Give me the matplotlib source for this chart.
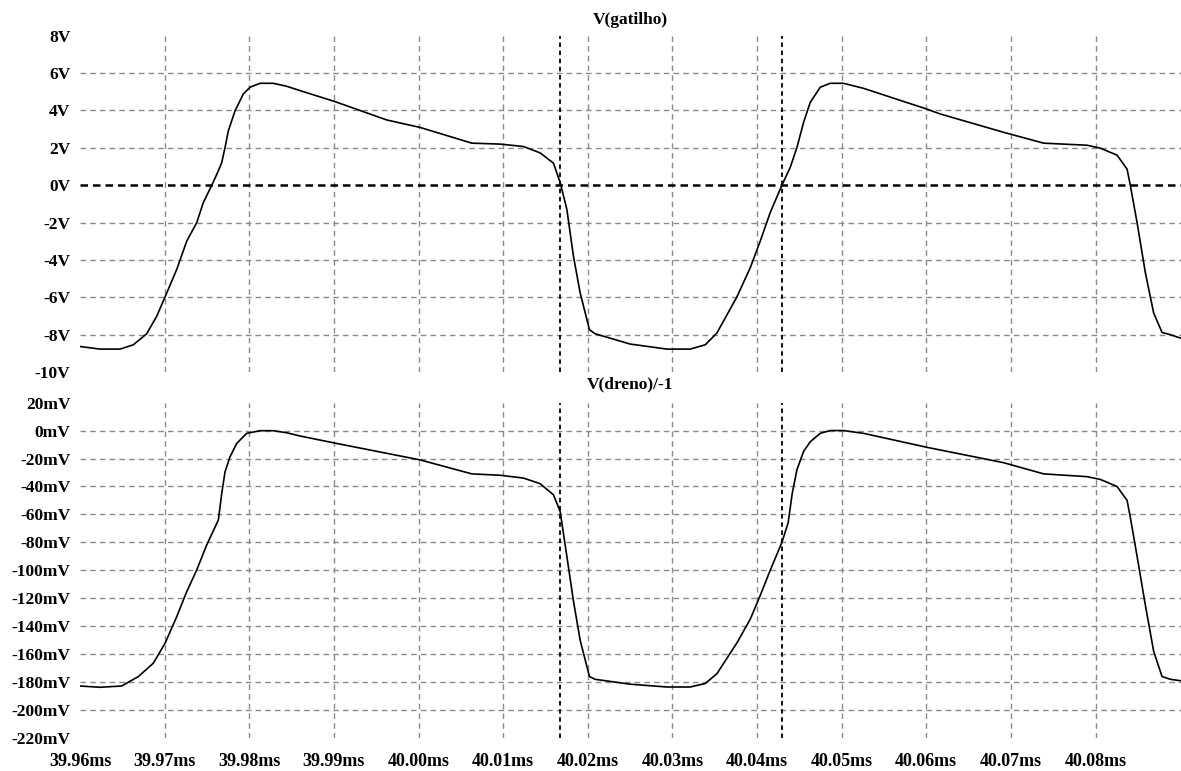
import numpy as np
import matplotlib.pyplot as plt

plt.rcParams['font.family'] = ['Liberation Serif', 'DejaVu Serif']
plt.rcParams['font.weight'] = 'bold'

# V(gatilho) trace (ms, V)
t_gate = [39.96000, 39.96236, 39.96473, 39.96630, 39.96788, 39.96907, 39.97005,
          39.97143, 39.97261, 39.97379, 39.97457, 39.97557, 39.97635, 39.97675,
          39.97714, 39.97753, 39.97832, 39.97930, 39.98009, 39.98128, 39.98285,
          39.98443, 39.98600, 39.99014, 39.99625, 40.00019, 40.00630, 40.00965,
          40.01240, 40.01437, 40.01595, 40.01674, 40.01753, 40.01831, 40.01910,
          40.02020, 40.02087, 40.02501, 40.02935, 40.03210, 40.03388, 40.03526,
          40.03762, 40.03920, 40.04038, 40.04156, 40.04294, 40.04392, 40.04472,
          40.04550, 40.04629, 40.04747, 40.04865, 40.05022, 40.05259, 40.06008,
          40.06165, 40.06914, 40.07387, 40.07900, 40.08057, 40.08254, 40.08373,
          40.08411, 40.08491, 40.08589, 40.08687, 40.08786, 40.08885, 40.09002]
v_gate = [-8.62, -8.76, -8.76, -8.53, -7.94, -7.00, -5.97,
          -4.50, -2.99, -2.00, -0.93, 0.00, 0.77, 1.22,
          2.02, 2.91, 3.98, 4.88, 5.24, 5.45, 5.45,
          5.29, 5.06, 4.47, 3.49, 3.09, 2.25, 2.20,
          2.07, 1.73, 1.18, 0.14, -1.29, -3.80, -5.75,
          -7.72, -7.94, -8.49, -8.76, -8.76, -8.53, -7.90,
          -5.97, -4.41, -2.99, -1.46, 0.00, 0.95, 2.02,
          3.36, 4.43, 5.24, 5.45, 5.45, 5.18, 4.07,
          3.81, 2.83, 2.25, 2.14, 1.98, 1.61, 0.86,
          0.00, -2.00, -4.68, -6.83, -7.87, -7.99, -8.17]

# V(dreno)/-1 trace (ms, mV)
t_drain = [39.96000, 39.96236, 39.96492, 39.96688, 39.96866, 39.97005, 39.97143,
           39.97261, 39.97379, 39.97497, 39.97635, 39.97675, 39.97714, 39.97773,
           39.97852, 39.97970, 39.98128, 39.98285, 39.98443, 39.98600, 39.99014,
           40.00019, 40.00630, 40.00965, 40.01240, 40.01437, 40.01595, 40.01674,
           40.01753, 40.01831, 40.01910, 40.02020, 40.02087, 40.02501, 40.02935,
           40.03210, 40.03388, 40.03526, 40.03762, 40.03920, 40.04038, 40.04156,
           40.04294, 40.04368, 40.04416, 40.04472, 40.04550, 40.04629, 40.04747,
           40.04865, 40.05022, 40.05259, 40.06008, 40.06914, 40.07387, 40.07900,
           40.08057, 40.08254, 40.08373, 40.08411, 40.08491, 40.08589, 40.08687,
           40.08786, 40.08885, 40.09002]
v_drain = [-182.8, -183.7, -182.8, -176.1, -166.5, -152.2, -133.2,
           -115.3, -99.8, -81.9, -64.0, -44.9, -29.5, -18.7,
           -9.2, -2.0, -0.1, -0.1, -1.6, -3.9, -9.0,
           -21.0, -31.0, -32.0, -34.0, -38.0, -46.0, -58.0,
           -90.0, -122.0, -150.0, -176.0, -178.0, -181.5, -183.5,
           -183.5, -181.0, -174.0, -152.0, -135.0, -118.0, -100.0,
           -80.0, -66.0, -45.0, -28.0, -15.0, -8.0, -2.0,
           0.0, 0.0, -2.0, -12.0, -23.0, -31.0, -33.0,
           -35.0, -40.0, -50.0, -62.0, -90.0, -125.0, -158.0,
           -176.0, -178.0, -179.0]

cursor_ms = [40.01674, 40.04294]
x_ticks = [39.96, 39.97, 39.98, 39.99, 40.00, 40.01, 40.02,
           40.03, 40.04, 40.05, 40.06, 40.07, 40.08]
gate_ticks = [8, 6, 4, 2, 0, -2, -4, -6, -8, -10]
drain_ticks = [20, 0, -20, -40, -60, -80, -100, -120, -140, -160, -180, -200, -220]

W, H = 1181, 771
fig = plt.figure(figsize=(W / 100, H / 100), dpi=100)
ax1 = fig.add_axes([80 / W, 1 - 372.3 / H, 1 - 80 / W, (372.3 - 35.6) / H])
ax2 = fig.add_axes([80 / W, 1 - 738 / H, 1 - 80 / W, (738 - 402.6) / H])

grid_kw = dict(color='#8a8a8a', lw=1.0, ls=(0, (4, 3)), zorder=1)
cur_kw = dict(color='black', lw=1.3, ls=(0, (2.5, 2)), zorder=2)


def setup(ax, yticks, unit, zero_bold):
    ax.set_xlim(x_ticks[0], 40.0901)
    ax.set_ylim(yticks[-1], yticks[0])
    for s in ax.spines.values():
        s.set_visible(False)
    for t in x_ticks[1:]:
        ax.axvline(t, **grid_kw)
    for y in yticks[1:-1]:
        if y == 0 and zero_bold:
            ax.axhline(y, color='black', lw=1.8, ls=(0, (3, 2)), zorder=1)
        else:
            ax.axhline(y, **grid_kw)
    for c in cursor_ms:
        ax.axvline(c, **cur_kw)
    ax.set_yticks(yticks)
    ax.set_yticklabels([f"{y}{unit}" for y in yticks], fontsize=12.5, fontweight='bold')
    ax.tick_params(length=0, pad=7)
    ax.set_xticks(x_ticks)


setup(ax1, gate_ticks, 'V', True)
setup(ax2, drain_ticks, 'mV', False)
ax1.set_xticklabels([])
ax2.set_xticklabels([f"{t:.2f}ms" for t in x_ticks], fontsize=13, fontweight='bold')
ax2.tick_params(axis='x', pad=11)

ax1.plot(t_gate, v_gate, color='black', lw=1.2, zorder=3)
ax2.plot(t_drain, v_drain, color='black', lw=1.2, zorder=3)

fig.text(630.5 / W, 1 - 20 / H, 'V(gatilho)', ha='center', va='center',
         fontsize=12.5, fontweight='bold')
fig.text(630.5 / W, 1 - 384 / H, 'V(dreno)/-1', ha='center', va='center',
         fontsize=12.5, fontweight='bold')

fig.savefig('out.png', dpi=100)
